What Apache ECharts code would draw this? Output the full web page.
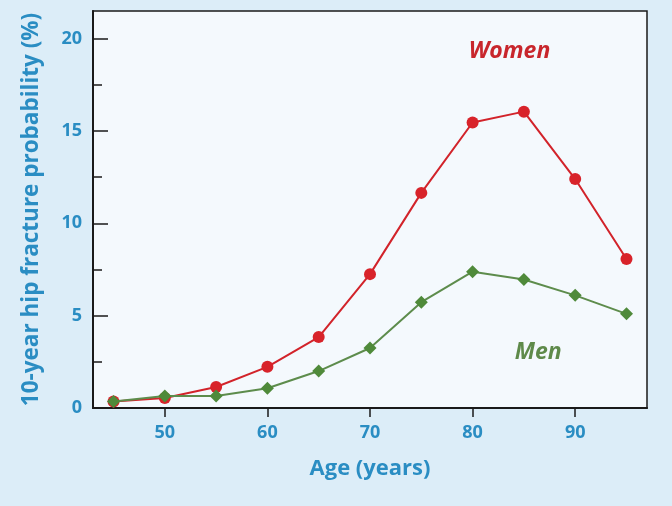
<!DOCTYPE html>
<html>
<head>
<meta charset="utf-8">
<script src="https://cdn.jsdelivr.net/npm/echarts@6/dist/echarts.min.js"></script>
<style>
html,body{margin:0;padding:0;background:#dcedf8;}
#c{width:672px;height:506px;}
</style>
</head>
<body>
<div id="c"></div>
<script>
var ages = [45, 50, 55, 60, 65, 70, 75, 80, 85, 90, 95];
var women = [0.35, 0.54, 1.14, 2.23, 3.84, 7.25, 11.65, 15.46, 16.05, 12.4, 8.07];
var men = [0.35, 0.65, 0.65, 1.07, 2.0, 3.25, 5.73, 7.38, 6.96, 6.1, 5.1];
var xTicks = [50, 60, 70, 80, 90];
var yTicks = [0, 5, 10, 15, 20];
var yMinorTicks = [2.5, 7.5, 12.5, 17.5];

var blue = '#2a8dc3';
var chart = echarts.init(document.getElementById('c'));
chart.setOption({
  backgroundColor: '#dcedf8',
  animation: false,
  grid: {left: 93, right: 25, top: 11, bottom: 98, show: true,
         backgroundColor: '#f4f9fd', borderColor: '#1a1a1a', borderWidth: 1.5},
  xAxis: {
    type: 'value', min: 43, max: 97, interval: 10,
    name: 'Age (years)', nameLocation: 'middle', nameGap: 50,
    nameTextStyle: {color: blue, fontSize: 22, fontWeight: 'bold', fontFamily: 'Open Sans'},
    axisLine: {show: true, lineStyle: {color: '#1a1a1a', width: 2}},
    axisTick: {show: true, length: 9, lineStyle: {color: '#1a1a1a', width: 1.5},
               customValues: xTicks},
    axisLabel: {color: blue, fontSize: 18, fontWeight: 'bold', fontFamily: 'Open Sans', margin: 16,
                customValues: xTicks},
    splitLine: {show: false}
  },
  yAxis: [{
    type: 'value', min: 0, max: 21.5,
    name: '10-year hip fracture probability (%)', nameLocation: 'middle', nameGap: 50,
    nameTextStyle: {color: blue, fontSize: 22.5, fontWeight: 'bold', fontFamily: 'Open Sans'},
    axisLine: {show: true, lineStyle: {color: '#1a1a1a', width: 2}},
    axisTick: {show: true, inside: true, length: 15, lineStyle: {color: '#1a1a1a', width: 1.5},
               customValues: yTicks},
    axisLabel: {color: blue, fontSize: 18, fontWeight: 'bold', fontFamily: 'Open Sans', margin: 11,
                customValues: yTicks},
    splitLine: {show: false}
  }, {
    type: 'value', min: 0, max: 21.5, position: 'left',
    axisLine: {show: false},
    axisTick: {show: true, inside: true, length: 9, lineStyle: {color: '#1a1a1a', width: 1.5},
               customValues: yMinorTicks},
    axisLabel: {show: false},
    splitLine: {show: false}
  }],
  series: [
    {
      type: 'line', name: 'Women', z: 2,
      data: ages.map(function(a, i){ return [a, women[i]]; }),
      symbol: 'circle', symbolSize: 12,
      lineStyle: {color: '#d2232a', width: 2},
      itemStyle: {color: '#d8232a'},
      markPoint: {
        symbol: 'circle', symbolSize: 0,
        label: {show: true, formatter: 'Women', color: '#c8262c', fontSize: 23,
                fontWeight: 'bold', fontStyle: 'italic', fontFamily: 'Open Sans'},
        data: [{coord: [83.6, 19.3]}]
      }
    },
    {
      type: 'line', name: 'Men', z: 3,
      data: ages.map(function(a, i){ return [a, men[i]]; }),
      symbol: 'diamond', symbolSize: 13,
      lineStyle: {color: '#5d8c4c', width: 2},
      itemStyle: {color: '#4f8a3a'},
      markPoint: {
        symbol: 'circle', symbolSize: 0,
        label: {show: true, formatter: 'Men', color: '#5e8a4a', fontSize: 23,
                fontWeight: 'bold', fontStyle: 'italic', fontFamily: 'Open Sans'},
        data: [{coord: [86.4, 3.0]}]
      }
    }
  ]
});
</script>
</body>
</html>
